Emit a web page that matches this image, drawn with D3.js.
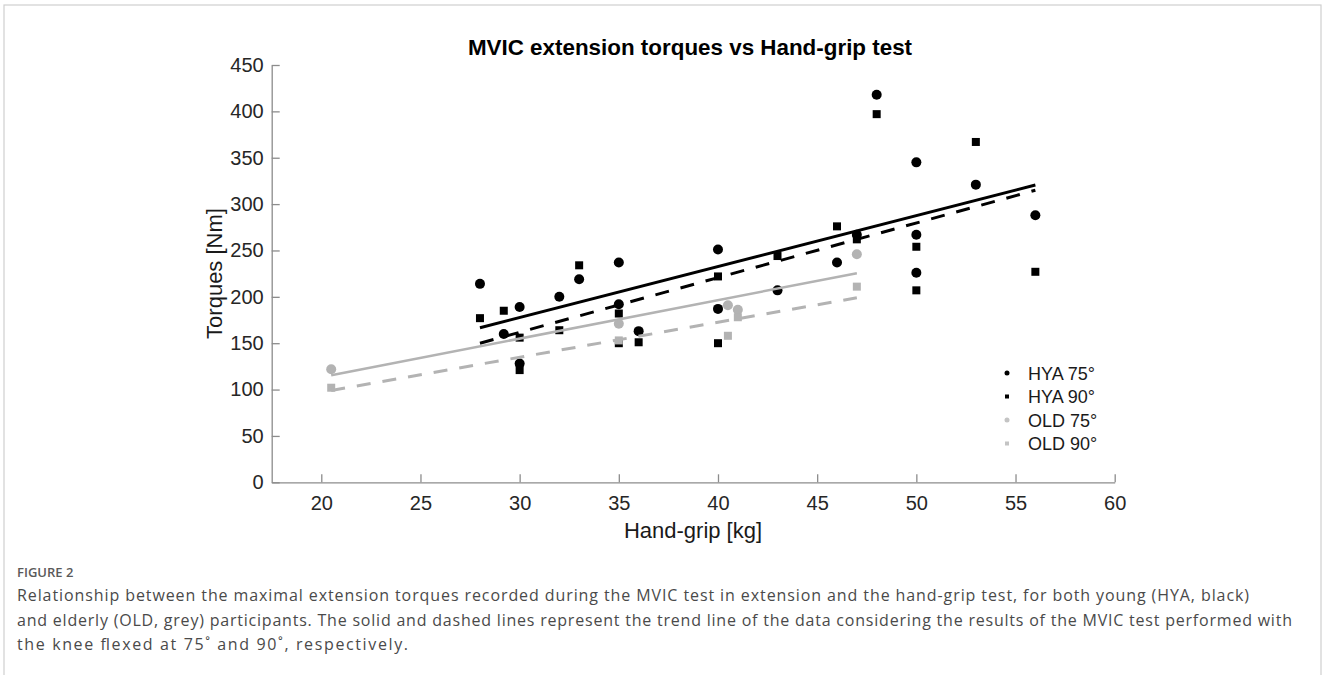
<!DOCTYPE html>
<html>
<head>
<meta charset="utf-8">
<script src="https://cdn.jsdelivr.net/npm/d3@7"></script>
<style>
    body { margin: 0; background: #fff; }
    svg { display: block; }
</style>
</head>
<body>
<svg id="chart" width="1325" height="675"></svg>
<script>
// hand-grip [kg] vs MVIC extension torque [Nm]
var hya75Grip = [28, 29.2, 30, 30, 32, 33, 35, 35, 36, 40, 40, 43, 46, 47, 48, 50, 50, 50, 53, 56];
var hya75Torque = [214, 160, 189, 128, 200, 219, 237, 192, 163, 251, 187, 207, 237, 267, 418, 345, 267, 226, 321, 288];
var hya90Grip = [28, 29.2, 30, 30, 32, 33, 35, 35, 36, 40, 40, 43, 46, 47, 48, 50, 50, 53, 56];
var hya90Torque = [177, 185, 156, 121, 164, 234, 182, 150, 151, 222, 150, 244, 276, 262, 397, 254, 207, 367, 227];
var old75Grip = [20.5, 35, 40.5, 41, 47];
var old75Torque = [122, 171, 191, 186, 246];
var old90Grip = [20.5, 35, 40.5, 41, 47];
var old90Torque = [102, 153, 158, 178, 211];

// trend lines, [grip, torque] at both ends
var hya75Trend = [[28, 166.7], [56, 320.6]];
var hya90Trend = [[28, 150], [56, 315]];
var old75Trend = [[20.5, 115.5], [47, 225.5]];
var old90Trend = [[20.5, 99], [47, 199]];

var legendLabels = ["HYA 75°", "HYA 90°", "OLD 75°", "OLD 90°"];
var xTicks = [20, 25, 30, 35, 40, 45, 50, 55, 60];
var yTicks = [0, 50, 100, 150, 200, 250, 300, 350, 400, 450];

var captionTitle = "FIGURE 2";
var captionLines = [
    "Relationship between the maximal extension torques recorded during the MVIC test in extension and the hand-grip test, for both young (HYA, black)",
    "and elderly (OLD, grey) participants. The solid and dashed lines represent the trend line of the data considering the results of the MVIC test performed with",
    "the knee flexed at 75˚ and 90˚, respectively."
];

var BLACK = "#000000",
    GREY = "#b3b3b3",
    AXIS = "#8c8c8c",
    FONT = "'Liberation Sans', Arial, Helvetica, sans-serif",
    CAPTION_FONT = "'Open Sans', 'Noto Sans', sans-serif";

var series = [
    {grip: hya75Grip, torque: hya75Torque, shape: "circle", color: BLACK, trend: hya75Trend, dash: null},
    {grip: hya90Grip, torque: hya90Torque, shape: "square", color: BLACK, trend: hya90Trend, dash: "14,12"},
    {grip: old75Grip, torque: old75Torque, shape: "circle", color: GREY, trend: old75Trend, dash: null},
    {grip: old90Grip, torque: old90Torque, shape: "square", color: GREY, trend: old90Trend, dash: "14,12"}
];

var svg = d3.select("#chart");

svg.append("rect")
    .attr("x", 4).attr("y", 5)
    .attr("width", 1317).attr("height", 720)
    .attr("fill", "#fff")
    .attr("stroke", "#cfcfcf")
    .attr("stroke-width", 1.2);

var x = d3.scaleLinear().domain([17.5, 60]).range([271.7, 1114.7]),
    y = d3.scaleLinear().domain([0, 450]).range([482.3, 65]);

// axes, ticks pointing inward like MATLAB
var xAxis = svg.append("g")
    .attr("transform", "translate(0," + y(0) + ")")
    .call(d3.axisBottom(x).tickValues(xTicks).tickSizeInner(-8).tickSizeOuter(0).tickPadding(14));
var yAxis = svg.append("g")
    .attr("transform", "translate(" + x(17.5) + ",0)")
    .call(d3.axisLeft(y).tickValues(yTicks).tickSizeInner(-8).tickSizeOuter(0).tickPadding(8));

[xAxis, yAxis].forEach(function (g) {
    g.select(".domain").attr("stroke", AXIS).attr("stroke-width", 1.3);
    g.selectAll(".tick line").attr("stroke", AXIS).attr("stroke-width", 1.3);
    g.selectAll(".tick text")
        .attr("fill", "#262626")
        .attr("font-family", FONT)
        .attr("font-size", 20);
});

// markers
var line = d3.line()
    .x(function (d) { return x(d[0]); })
    .y(function (d) { return y(d[1]); });

series.forEach(function (s) {
    var pts = s.grip.map(function (g, i) { return [g, s.torque[i]]; });
    var g = svg.append("g").attr("fill", s.color);
    if (s.shape === "circle") {
        g.selectAll("circle").data(pts).enter().append("circle")
            .attr("cx", function (d) { return x(d[0]); })
            .attr("cy", function (d) { return y(d[1]); })
            .attr("r", 5);
    } else {
        g.selectAll("rect").data(pts).enter().append("rect")
            .attr("x", function (d) { return x(d[0]) - 4; })
            .attr("y", function (d) { return y(d[1]) - 4; })
            .attr("width", 8)
            .attr("height", 8);
    }
});

// trend lines
series.forEach(function (s) {
    svg.append("path")
        .attr("d", line(s.trend))
        .attr("fill", "none")
        .attr("stroke", s.color)
        .attr("stroke-width", s.color === GREY && !s.dash ? 2.5 : 3)
        .attr("stroke-dasharray", s.dash);
});

// legend
var legend = svg.append("g").attr("transform", "translate(1007,373)");
legendLabels.forEach(function (label, i) {
    var s = series[i],
        c = s.color === GREY ? "#c4c4c4" : s.color,
        row = legend.append("g").attr("transform", "translate(0," + (i * 23.5) + ")");
    if (s.shape === "circle") {
        row.append("circle").attr("r", 2.5).attr("fill", c);
    } else {
        row.append("rect").attr("x", -2).attr("y", -2).attr("width", 4).attr("height", 4).attr("fill", c);
    }
    row.append("text")
        .attr("x", 21)
        .attr("y", 6.5)
        .attr("font-family", FONT)
        .attr("font-size", 18)
        .attr("fill", "#1a1a1a")
        .text(label);
});

// titles
svg.append("text")
    .attr("x", 690).attr("y", 55)
    .attr("text-anchor", "middle")
    .attr("font-family", FONT)
    .attr("font-size", 22.4)
    .attr("font-weight", "bold")
    .attr("fill", "#000")
    .text("MVIC extension torques vs Hand-grip test");

svg.append("text")
    .attr("x", 693).attr("y", 538)
    .attr("text-anchor", "middle")
    .attr("font-family", FONT)
    .attr("font-size", 22)
    .attr("fill", "#1a1a1a")
    .text("Hand-grip [kg]");

svg.append("text")
    .attr("transform", "translate(222,273.5) rotate(-90)")
    .attr("text-anchor", "middle")
    .attr("font-family", FONT)
    .attr("font-size", 22)
    .attr("fill", "#1a1a1a")
    .text("Torques [Nm]");

// caption
svg.append("text")
    .attr("x", 17).attr("y", 577)
    .attr("font-family", CAPTION_FONT)
    .attr("font-size", 13)
    .attr("font-weight", 600)
    .attr("fill", "#5a5a5a")
    .text(captionTitle);

var captionWidths = [1232, 1275, 391];
captionLines.forEach(function (t, i) {
    svg.append("text")
        .attr("x", 17).attr("y", 601 + i * 24.5)
        .attr("font-family", CAPTION_FONT)
        .attr("font-size", 16)
        .attr("fill", "#4a4a4a")
        .attr("textLength", captionWidths[i])
        .attr("lengthAdjust", "spacing")
        .text(t);
});
</script>
</body>
</html>
